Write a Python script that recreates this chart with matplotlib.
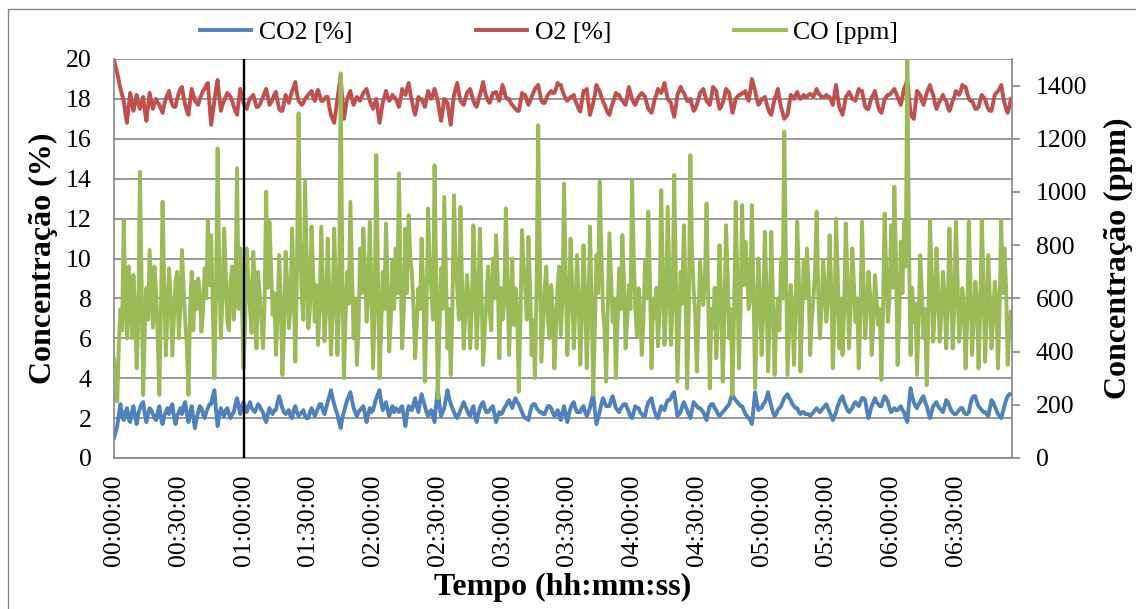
import numpy as np
import matplotlib
matplotlib.use("Agg")
import matplotlib.pyplot as plt
from matplotlib.patches import Rectangle

# ---------------- data ----------------
# main readings every 90 s, plus the readings lying between them (45 s grid)
sample_step_min = 1.5

co2 = [
    1.0, 1.6, 2.7, 1.9, 2.5, 1.8, 2.6, 1.7, 2.5, 2.8,
    1.8, 2.5, 2.2, 1.9, 2.6, 1.7, 2.3, 2.2, 2.7, 1.7,
    2.3, 2.2, 2.8, 1.8, 2.6, 1.5, 2.3, 2.5, 2.0, 2.5,
    2.7, 3.4, 1.6, 2.5, 2.1, 2.5, 2.0, 2.3, 3.0, 2.2,
    2.8, 2.3, 2.8, 2.4, 2.5, 2.6, 2.3, 1.8, 2.5, 2.2,
    2.4, 3.1, 2.5, 2.2, 2.4, 2.0, 2.6, 2.1, 2.3, 2.1,
    2.0, 2.5, 2.1, 2.5, 2.7, 2.2, 2.8, 3.4, 2.7, 2.2,
    1.5, 2.3, 2.9, 3.3, 2.5, 2.1, 2.4, 2.6, 1.8, 2.5,
    2.4, 3.0, 3.4, 2.4, 2.8, 2.1, 2.6, 2.5, 2.3, 2.6,
    1.6, 2.6, 2.4, 3.0, 2.3, 3.2, 2.6, 2.1, 2.4, 1.8,
    3.5, 2.1, 2.5, 3.4, 2.7, 2.3, 2.0, 2.4, 2.8, 2.4,
    2.1, 2.6, 1.8, 2.5, 2.8, 2.3, 2.4, 2.6, 1.8, 2.3,
    2.3, 2.6, 2.9, 2.5, 3.0, 2.7, 2.3, 2.0, 1.9, 2.6,
    2.7, 2.4, 2.3, 2.2, 2.6, 2.5, 2.1, 2.4, 1.9, 2.6,
    1.8, 2.5, 2.8, 2.3, 2.3, 2.6, 2.1, 2.5, 3.2, 1.7,
    2.3, 3.0, 2.6, 2.6, 3.1, 2.5, 2.3, 2.6, 2.7, 2.3,
    2.0, 2.6, 2.5, 2.2, 2.1, 2.8, 3.0, 2.3, 2.0, 2.6,
    2.4, 2.9, 3.0, 3.3, 2.1, 2.3, 2.8, 2.4, 2.0, 2.8,
    2.6, 2.5, 2.3, 1.9, 2.6, 2.7, 2.4, 2.1, 2.3, 2.5,
    2.7, 3.2, 2.9, 2.7, 2.6, 2.2, 2.0, 1.7, 3.3, 2.4,
    2.5, 2.8, 3.3, 2.6, 2.1, 2.4, 2.6, 3.0, 3.2, 2.9,
    2.6, 2.5, 2.2, 2.3, 2.2, 2.1, 2.3, 2.5, 2.3, 2.5,
    2.7, 2.3, 1.9, 2.3, 2.8, 3.1, 2.6, 2.3, 2.5, 2.8,
    2.6, 3.0, 2.9, 2.0, 2.6, 3.0, 2.7, 2.6, 3.1, 2.8,
    2.3, 2.5, 2.4, 2.6, 2.3, 1.8, 3.5, 2.8, 2.5, 2.8,
    3.1, 2.6, 2.0, 2.6, 2.8, 2.5, 2.3, 2.9, 2.6, 2.3,
    2.2, 2.4, 2.5, 2.2, 2.3, 3.0, 3.1, 2.6, 2.4, 2.3,
    2.1, 2.9, 2.6, 2.2, 2.0, 2.6, 3.1, 3.2,
]
co2_between = [
    1.3, 2.2, 2.1, 2.3, 2.0, 2.3, 2.1, 2.2, 2.7, 2.2,
    2.2, 2.4, 2.0, 2.3, 2.0, 2.1, 2.5, 2.5, 2.1, 2.1,
    2.5, 2.6, 2.2, 2.3, 2.0, 2.0, 2.6, 2.2, 2.3, 2.7,
    3.1, 2.4, 2.2, 2.2, 2.4, 2.2, 2.2, 2.7, 2.6, 2.6,
    2.5, 2.6, 2.5, 2.3, 2.7, 2.4, 2.0, 2.2, 2.3, 2.4,
    2.8, 2.8, 2.3, 2.3, 2.1, 2.4, 2.3, 2.2, 2.4, 2.0,
    2.3, 2.3, 2.3, 2.7, 2.4, 2.5, 3.1, 3.0, 2.4, 1.8,
    2.0, 2.6, 3.1, 2.9, 2.3, 2.3, 2.5, 2.2, 2.2, 2.3,
    2.7, 3.2, 2.8, 2.6, 2.4, 2.4, 2.3, 2.4, 2.5, 2.1,
    2.2, 2.5, 2.7, 2.6, 2.8, 2.9, 2.3, 2.3, 2.1, 2.7,
    2.7, 2.3, 3.0, 3.0, 2.5, 2.1, 2.2, 2.6, 2.6, 2.2,
    2.4, 2.1, 2.2, 2.7, 2.5, 2.3, 2.5, 2.2, 2.1, 2.2,
    2.5, 2.8, 2.7, 2.8, 2.8, 2.5, 2.1, 2.0, 2.3, 2.7,
    2.5, 2.3, 2.2, 2.4, 2.6, 2.3, 2.2, 2.1, 2.3, 2.2,
    2.2, 2.7, 2.5, 2.3, 2.5, 2.3, 2.3, 2.9, 2.4, 2.0,
    2.7, 2.8, 2.6, 2.9, 2.8, 2.4, 2.5, 2.7, 2.5, 2.1,
    2.3, 2.5, 2.3, 2.1, 2.5, 2.9, 2.6, 2.1, 2.3, 2.5,
    2.7, 2.9, 3.2, 2.7, 2.2, 2.6, 2.6, 2.2, 2.4, 2.7,
    2.5, 2.4, 2.1, 2.3, 2.7, 2.5, 2.2, 2.2, 2.4, 2.6,
    3.0, 3.0, 2.8, 2.6, 2.4, 2.1, 1.9, 2.5, 2.8, 2.5,
    2.7, 3.0, 2.9, 2.3, 2.2, 2.5, 2.8, 3.1, 3.0, 2.7,
    2.5, 2.3, 2.3, 2.2, 2.2, 2.2, 2.4, 2.4, 2.4, 2.6,
    2.5, 2.1, 2.1, 2.6, 3.0, 2.8, 2.4, 2.4, 2.7, 2.7,
    2.8, 3.0, 2.4, 2.3, 2.8, 2.8, 2.6, 2.9, 3.0, 2.5,
    2.4, 2.4, 2.5, 2.4, 2.0, 2.7, 3.1, 2.6, 2.7, 3.0,
    2.8, 2.3, 2.3, 2.7, 2.6, 2.4, 2.6, 2.8, 2.4, 2.2,
    2.3, 2.5, 2.3, 2.2, 2.7, 3.1, 2.8, 2.5, 2.3, 2.2,
    2.5, 2.8, 2.4, 2.1, 2.3, 2.9, 3.2,
]

o2 = [
    19.95, 19.3, 18.5, 17.9, 16.8, 18.3, 17.4, 18.2, 17.5, 18.1,
    16.9, 18.3, 17.5, 18.0, 17.7, 17.3, 18.0, 18.4, 17.7, 17.6,
    18.3, 18.6, 17.7, 17.2, 18.5, 17.9, 17.7, 18.2, 18.5, 18.8,
    16.7, 17.9, 18.95, 17.4, 17.9, 18.3, 18.1, 17.6, 17.2, 18.5,
    17.8, 17.5, 18.0, 18.2, 17.6, 17.7, 18.1, 18.5, 17.7, 18.0,
    18.35, 17.5, 17.4, 18.2, 17.8, 18.4, 18.85, 17.9, 17.7, 18.0,
    18.2, 18.4, 17.9, 18.45, 17.9, 18.0, 18.1, 17.2, 16.8, 18.0,
    19.1, 17.0, 18.0, 18.4, 17.7, 18.1, 17.9, 18.3, 18.5, 17.9,
    17.5, 18.0, 16.8, 17.8, 18.4, 17.9, 18.2, 18.0, 17.6, 18.5,
    18.2, 18.8, 17.9, 17.2, 18.1, 18.0, 17.6, 18.4, 18.0, 18.5,
    17.9, 16.9, 18.0, 17.8, 16.7, 18.2, 18.8, 17.9, 17.7, 18.3,
    18.5, 17.9, 17.6, 18.2, 18.85, 18.1, 17.8, 18.3, 18.35, 17.9,
    18.7, 18.1, 18.0, 17.7, 17.5, 17.4, 18.3, 18.2, 17.7, 18.1,
    18.5, 18.7, 17.9, 17.8, 18.2, 18.4, 18.3, 18.8, 18.7, 18.2,
    17.9, 18.1, 18.2, 17.7, 17.36, 18.4, 18.5, 17.2, 17.8, 18.7,
    18.4, 17.9, 17.5, 17.2, 17.8, 18.3, 18.2, 17.9, 17.7, 18.6,
    18.0, 17.7, 18.1, 18.3, 18.1, 17.5, 17.3, 18.0, 18.5, 18.3,
    18.8, 18.0, 17.8, 17.1, 18.2, 18.6, 18.3, 17.9, 18.0, 17.4,
    17.7, 18.3, 18.5, 17.9, 17.7, 18.6, 18.4, 17.5, 17.8, 18.5,
    18.3, 17.3, 18.0, 18.2, 18.3, 18.4, 17.9, 19.0, 18.4, 17.7,
    18.0, 18.1, 17.5, 17.2, 18.0, 18.5, 17.6, 17.0, 17.2, 18.2,
    18.0, 18.35, 18.0, 18.2, 18.1, 18.25, 18.1, 18.5, 18.2, 18.1,
    18.2, 18.1, 17.7, 18.7, 17.6, 17.2, 18.1, 18.35, 18.0, 17.9,
    18.5, 18.4, 17.6, 17.5, 18.1, 18.4, 17.6, 17.3, 18.0, 18.2,
    18.3, 18.5, 18.1, 17.7, 18.5, 19.0, 17.3, 17.0, 18.4, 18.2,
    17.7, 18.3, 18.7, 18.2, 17.5, 17.9, 18.2, 17.9, 17.4, 17.9,
    18.4, 18.2, 18.7, 18.6, 18.0, 17.9, 17.5, 17.6, 18.2, 18.0,
    17.5, 17.4, 18.2, 18.4, 18.7, 17.8, 17.3, 18.0,
]
o2_between = [
    19.6, 18.9, 18.2, 17.3, 17.6, 17.8, 17.8, 17.8, 17.8, 17.4,
    17.6, 17.9, 17.8, 17.8, 17.5, 17.7, 18.2, 18.0, 17.6, 18.0,
    18.5, 18.1, 17.4, 17.9, 18.2, 17.8, 18.0, 18.4, 18.7, 17.7,
    17.3, 18.5, 18.1, 17.7, 18.1, 18.2, 17.9, 17.4, 17.9, 18.1,
    17.6, 17.8, 18.1, 17.9, 17.6, 17.9, 18.3, 18.1, 17.8, 18.2,
    17.9, 17.4, 17.8, 18.0, 18.1, 18.6, 18.3, 17.8, 17.8, 18.1,
    18.3, 18.1, 18.2, 18.2, 17.9, 18.1, 17.6, 17.0, 17.4, 18.6,
    18.0, 17.5, 18.2, 18.0, 17.9, 18.0, 18.1, 18.4, 18.2, 17.7,
    17.8, 17.4, 17.3, 18.1, 18.1, 18.0, 18.1, 17.8, 18.0, 18.3,
    18.5, 18.3, 17.5, 17.6, 18.0, 17.8, 18.0, 18.2, 18.2, 18.2,
    17.4, 17.4, 17.9, 17.2, 17.5, 18.5, 18.3, 17.8, 18.0, 18.4,
    18.2, 17.7, 17.9, 18.5, 18.4, 17.9, 18.0, 18.3, 18.1, 18.3,
    18.4, 18.0, 17.8, 17.6, 17.4, 17.8, 18.2, 17.9, 17.9, 18.3,
    18.6, 18.3, 17.8, 18.0, 18.3, 18.3, 18.5, 18.7, 18.4, 18.0,
    18.0, 18.1, 17.9, 17.5, 17.9, 18.4, 17.8, 17.5, 18.2, 18.5,
    18.1, 17.7, 17.3, 17.5, 18.0, 18.2, 18.0, 17.8, 18.1, 18.3,
    17.8, 17.9, 18.2, 18.2, 17.8, 17.4, 17.6, 18.2, 18.4, 18.5,
    18.4, 17.9, 17.4, 17.6, 18.4, 18.4, 18.1, 17.9, 17.7, 17.5,
    18.0, 18.4, 18.2, 17.8, 18.1, 18.5, 17.9, 17.6, 18.1, 18.4,
    17.8, 17.6, 18.1, 18.2, 18.3, 18.1, 18.4, 18.7, 18.0, 17.8,
    18.0, 17.8, 17.3, 17.6, 18.2, 18.0, 17.3, 17.1, 17.7, 18.1,
    18.2, 18.1, 18.1, 18.1, 18.2, 18.2, 18.3, 18.3, 18.1, 18.1,
    18.1, 17.9, 18.2, 18.1, 17.4, 17.6, 18.2, 18.2, 18.0, 18.2,
    18.4, 18.0, 17.5, 17.8, 18.2, 18.0, 17.4, 17.6, 18.1, 18.2,
    18.4, 18.3, 17.9, 18.1, 18.7, 18.1, 17.1, 17.7, 18.3, 17.9,
    18.0, 18.5, 18.4, 17.8, 17.7, 18.0, 18.0, 17.6, 17.6, 18.1,
    18.3, 18.4, 18.6, 18.3, 17.9, 17.7, 17.5, 17.9, 18.1, 17.7,
    17.4, 17.8, 18.3, 18.5, 18.2, 17.5, 17.6,
]

co = [
    375, 212, 560, 895, 450, 600, 688, 337, 1076, 237,
    640, 782, 490, 620, 237, 963, 385, 713, 385, 663,
    450, 782, 510, 237, 700, 663, 675, 475, 713, 895,
    838, 300, 1164, 450, 863, 513, 663, 520, 1089, 788,
    337, 788, 560, 775, 412, 613, 412, 1001, 888, 538,
    388, 763, 312, 775, 488, 863, 362, 1296, 600, 1039,
    488, 870, 513, 425, 870, 438, 825, 388, 863, 387,
    1446, 300, 700, 963, 450, 350, 788, 863, 512, 888,
    337, 1139, 300, 700, 882, 400, 738, 788, 1070, 412,
    863, 913, 700, 375, 638, 825, 287, 938, 638, 1101,
    224, 713, 982, 412, 312, 988, 638, 944, 412, 688,
    412, 875, 412, 863, 350, 588, 563, 750, 838, 375,
    520, 938, 387, 750, 638, 249, 857, 638, 832, 387,
    300, 1251, 362, 638, 520, 650, 337, 650, 462, 1032,
    387, 825, 412, 763, 350, 800, 337, 870, 237, 763,
    1039, 562, 287, 845, 512, 300, 713, 838, 412, 650,
    1045, 562, 638, 387, 738, 926, 337, 525, 420, 1007,
    425, 944, 425, 1064, 287, 700, 875, 262, 1139, 638,
    325, 738, 575, 957, 262, 487, 375, 800, 287, 875,
    450, 237, 963, 337, 951, 813, 560, 951, 262, 750,
    387, 850, 325, 850, 312, 600, 750, 1227, 312, 650,
    350, 888, 325, 738, 788, 387, 600, 926, 450, 744,
    512, 838, 337, 900, 412, 387, 882, 412, 788, 512,
    337, 888, 450, 700, 387, 688, 500, 293, 919, 512,
    875, 1020, 350, 813, 888, 1500, 387, 512, 312, 763,
    450, 274, 895, 437, 788, 437, 700, 412, 863, 412,
    888, 437, 638, 337, 888, 387, 663, 337, 895, 362,
    763, 412, 663, 337, 895, 788, 350, 550,
]
co_between = [
    300, 430, 480, 620, 720, 450, 560, 520, 680, 480,
    520, 640, 720, 450, 560, 650, 540, 600, 520, 700,
    560, 640, 420, 560, 480, 560, 620, 550, 600, 650,
    560, 620, 700, 600, 700, 480, 720, 640, 560, 600,
    500, 680, 470, 650, 700, 520, 580, 640, 720, 620,
    520, 600, 480, 660, 560, 640, 700, 820, 520, 760,
    560, 700, 650, 560, 650, 560, 620, 540, 640, 560,
    720, 520, 580, 700, 600, 480, 620, 720, 600, 640,
    560, 700, 480, 560, 660, 520, 560, 620, 700, 560,
    620, 760, 560, 500, 560, 640, 520, 720, 520, 680,
    480, 560, 700, 560, 560, 740, 520, 650, 540, 600,
    560, 680, 580, 620, 480, 720, 480, 600, 680, 640,
    580, 700, 560, 500, 560, 520, 720, 520, 640, 520,
    640, 760, 500, 720, 450, 560, 480, 720, 600, 680,
    560, 640, 560, 600, 540, 620, 540, 600, 480, 620,
    780, 480, 560, 680, 600, 500, 560, 660, 520, 560,
    760, 460, 560, 520, 600, 680, 600, 640, 560, 700,
    560, 680, 580, 700, 500, 580, 640, 540, 780, 540,
    520, 640, 680, 620, 560, 640, 520, 600, 520, 700,
    560, 540, 680, 560, 650, 720, 600, 640, 500, 620,
    540, 640, 520, 600, 500, 480, 600, 760, 480, 560,
    560, 680, 520, 600, 660, 520, 700, 620, 560, 650,
    600, 640, 520, 700, 600, 560, 680, 560, 660, 600,
    520, 660, 560, 620, 500, 600, 560, 560, 700, 600,
    640, 740, 520, 620, 720, 820, 640, 580, 520, 620,
    560, 520, 700, 560, 640, 540, 620, 560, 680, 560,
    680, 520, 560, 520, 660, 520, 600, 540, 680, 520,
    600, 520, 600, 560, 620, 640, 480,
]

series_labels = ["CO2 [%]", "O2 [%]", "CO [ppm]"]
marker_time_min = 60            # vertical reference line at 01:00:00
xtick_minutes = list(range(0, 391, 30))
left_ticks = list(range(0, 21, 2))
right_ticks = list(range(0, 1401, 200))
x_max_min = 416


def merge(main, between):
    out = np.empty(len(main) + len(between))
    out[0::2] = main
    out[1::2] = between
    return out


co2_s = merge(co2, co2_between)
o2_s = merge(o2, o2_between)
co_s = merge(co, co_between)
t = np.arange(len(co_s)) * (sample_step_min / 2)

# ---------------- figure ----------------
plt.rcParams["font.family"] = ["Liberation Serif", "DejaVu Serif"]

W, H = 1136, 609
fig = plt.figure(figsize=(W / 100, H / 100), dpi=100)
L, R, T, B = 114, 1012, 59, 458
ax1 = fig.add_axes([L / W, 1 - B / H, (R - L) / W, (B - T) / H])

blue, red, green = "#4F81BD", "#C0504D", "#9BBB59"
grid_c = "#868686"
lw = 2.8

l1, = ax1.plot(t, co2_s, color=blue, lw=lw, solid_joinstyle="round", label=series_labels[0])
l2, = ax1.plot(t, o2_s, color=red, lw=lw, solid_joinstyle="round", label=series_labels[1])
ax2 = ax1.twinx()
l3, = ax2.plot(t, co_s, color=green, lw=lw, solid_joinstyle="round", label=series_labels[2])
ax2.axvline(marker_time_min, color="black", lw=1.7, zorder=10)

ax1.set_xlim(0, x_max_min)
ax1.set_ylim(0, 20)
ax2.set_ylim(0, 1500)
ax1.set_yticks(left_ticks)
ax2.set_yticks(right_ticks)
ax1.set_xticks(xtick_minutes)
ax1.set_xticklabels([f"{m // 60:02d}:{m % 60:02d}:00" for m in xtick_minutes], rotation=90)

ax1.yaxis.grid(True, color=grid_c, lw=1.2)
ax1.set_axisbelow(True)

for sp in ("top", "right"):
    ax1.spines[sp].set_visible(False)
for sp in ("top", "left", "bottom"):
    ax2.spines[sp].set_visible(False)
for sp in ("left", "bottom"):
    ax1.spines[sp].set_color(grid_c)
    ax1.spines[sp].set_linewidth(1.2)
ax2.spines["right"].set_color(grid_c)
ax2.spines["right"].set_linewidth(1.2)

fs = 18.5
ax1.tick_params(axis="y", length=0, pad=16, labelsize=fs)
ax1.tick_params(axis="x", length=0, pad=12, labelsize=fs)
ax2.tick_params(axis="y", length=6, width=1.2, color=grid_c, direction="out", pad=11, labelsize=fs)

lab_fs = 23
ax1.set_xlabel("Tempo (hh:mm:ss)", fontsize=lab_fs, fontweight="bold", labelpad=5)
ax1.set_ylabel("Concentração (%)", fontsize=lab_fs, fontweight="bold", labelpad=6)
ax2.set_ylabel("Concentração (ppm)", fontsize=lab_fs, fontweight="bold", labelpad=12)

fig.legend([l1, l2, l3], series_labels, loc="center", bbox_to_anchor=(549 / W, 1 - 33 / H),
           ncol=3, frameon=False, fontsize=fs, handlelength=2.0, handletextpad=0.3,
           columnspacing=4.8)

fig.patches.append(Rectangle((8 / W, -0.05), 1.2, 1 - 9 / H + 0.05, transform=fig.transFigure,
                             fill=False, edgecolor=grid_c, lw=1.0))

fig.savefig("out.png", dpi=100)
